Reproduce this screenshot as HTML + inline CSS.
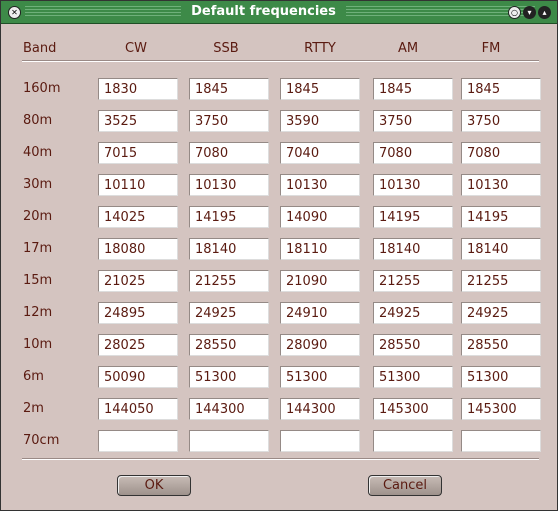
<!DOCTYPE html>
<html><head><meta charset="utf-8"><style>
body{margin:0;width:558px;height:511px;overflow:hidden;background:#d4c4c0;font-family:"DejaVu Sans","Liberation Sans",sans-serif;font-size:13px;color:#5a1a10}
#win{position:absolute;left:0;top:0;width:556px;height:509px;border:1px solid #333;background:#d4c4c0}
#title{position:absolute;left:0;top:0;width:556px;height:22px;background:#3d8a48;border-bottom:1px solid #1f4f26}
.stripe{position:absolute;top:5px;height:12px;background:repeating-linear-gradient(#6fb07a 0 1px,#3d8a48 1px 3px)}
#ttext{position:absolute;left:180px;top:3px;width:165px;text-align:center;color:#fff;font-weight:bold;font-size:13px;background:#3d8a48}
.circ{position:absolute;top:5px;width:11px;height:11px;border-radius:50%;background:#eee;border:1px solid #222;font-size:8px;line-height:11px;text-align:center;color:#000}
.lbl{position:absolute}
.hdr{position:absolute;top:40px;text-align:center;width:80px}
.fld{position:absolute;width:80px;height:22px;box-sizing:border-box;background:#fff;border:1px solid #958a86;border-right-color:#ddd;border-bottom-color:#ddd;line-height:21px;padding-left:5px}
.line{position:absolute;left:21px;width:517px;height:1px;background:#9a8a86;border-bottom:1px solid #fff}
.btn{position:absolute;top:474px;width:72px;height:19px;border:1px solid #333;border-radius:4px;background:linear-gradient(#c8bcb6,#9e928c);text-align:center;line-height:19px;box-shadow:inset 1px 1px 0 #eee}
</style></head><body>
<div id="win">
<div id="title">
<div class="stripe" style="left:24px;width:510px"></div>
<div id="ttext">Default frequencies</div>
<div class="circ" style="left:7px">✕</div>
<div class="circ" style="left:507px">○</div>
<div class="circ" style="left:522px;background:#222;color:#fff">▾</div>
<div class="circ" style="left:537px;background:#222;color:#fff">▴</div>
</div>
<div class="lbl" style="left:22px;top:40px">Band</div>
<div class="hdr" style="left:95px">CW</div>
<div class="hdr" style="left:185px">SSB</div>
<div class="hdr" style="left:279px">RTTY</div>
<div class="hdr" style="left:367px">AM</div>
<div class="hdr" style="left:450px">FM</div>
<div class="line" style="top:59px"></div>
<div class="line" style="top:457px"></div>
<div class="btn" style="left:116px">OK</div>
<div class="btn" style="left:367px">Cancel</div>
</div>
<script>
const bands=["160m","80m","40m","30m","20m","17m","15m","12m","10m","6m","2m","70cm"];
const modes=["cw","ssb","rtty","am","fm"];
const vals=[["1830","1845","1845","1845","1845"],["3525","3750","3590","3750","3750"],["7015","7080","7040","7080","7080"],["10110","10130","10130","10130","10130"],["14025","14195","14090","14195","14195"],["18080","18140","18110","18140","18140"],["21025","21255","21090","21255","21255"],["24895","24925","24910","24925","24925"],["28025","28550","28090","28550","28550"],["50090","51300","51300","51300","51300"],["144050","144300","144300","145300","145300"],["","","","",""]];
const xs=[97,188,279,372,460];
const g=document.getElementById('win');
bands.forEach((b,i)=>{
 const y=77+i*32;
 const l=document.createElement('div');l.className='lbl';l.style.left='22px';l.style.top=(y+3)+'px';l.textContent=b;
 
 
 g.appendChild(l);
 xs.forEach((x,j)=>{
  const f=document.createElement('div');f.className='fld';f.style.left=x+'px';f.style.top=y+'px';f.textContent=vals[i][j];
  
  
  g.appendChild(f);
 });
});
</script>
</body></html>
